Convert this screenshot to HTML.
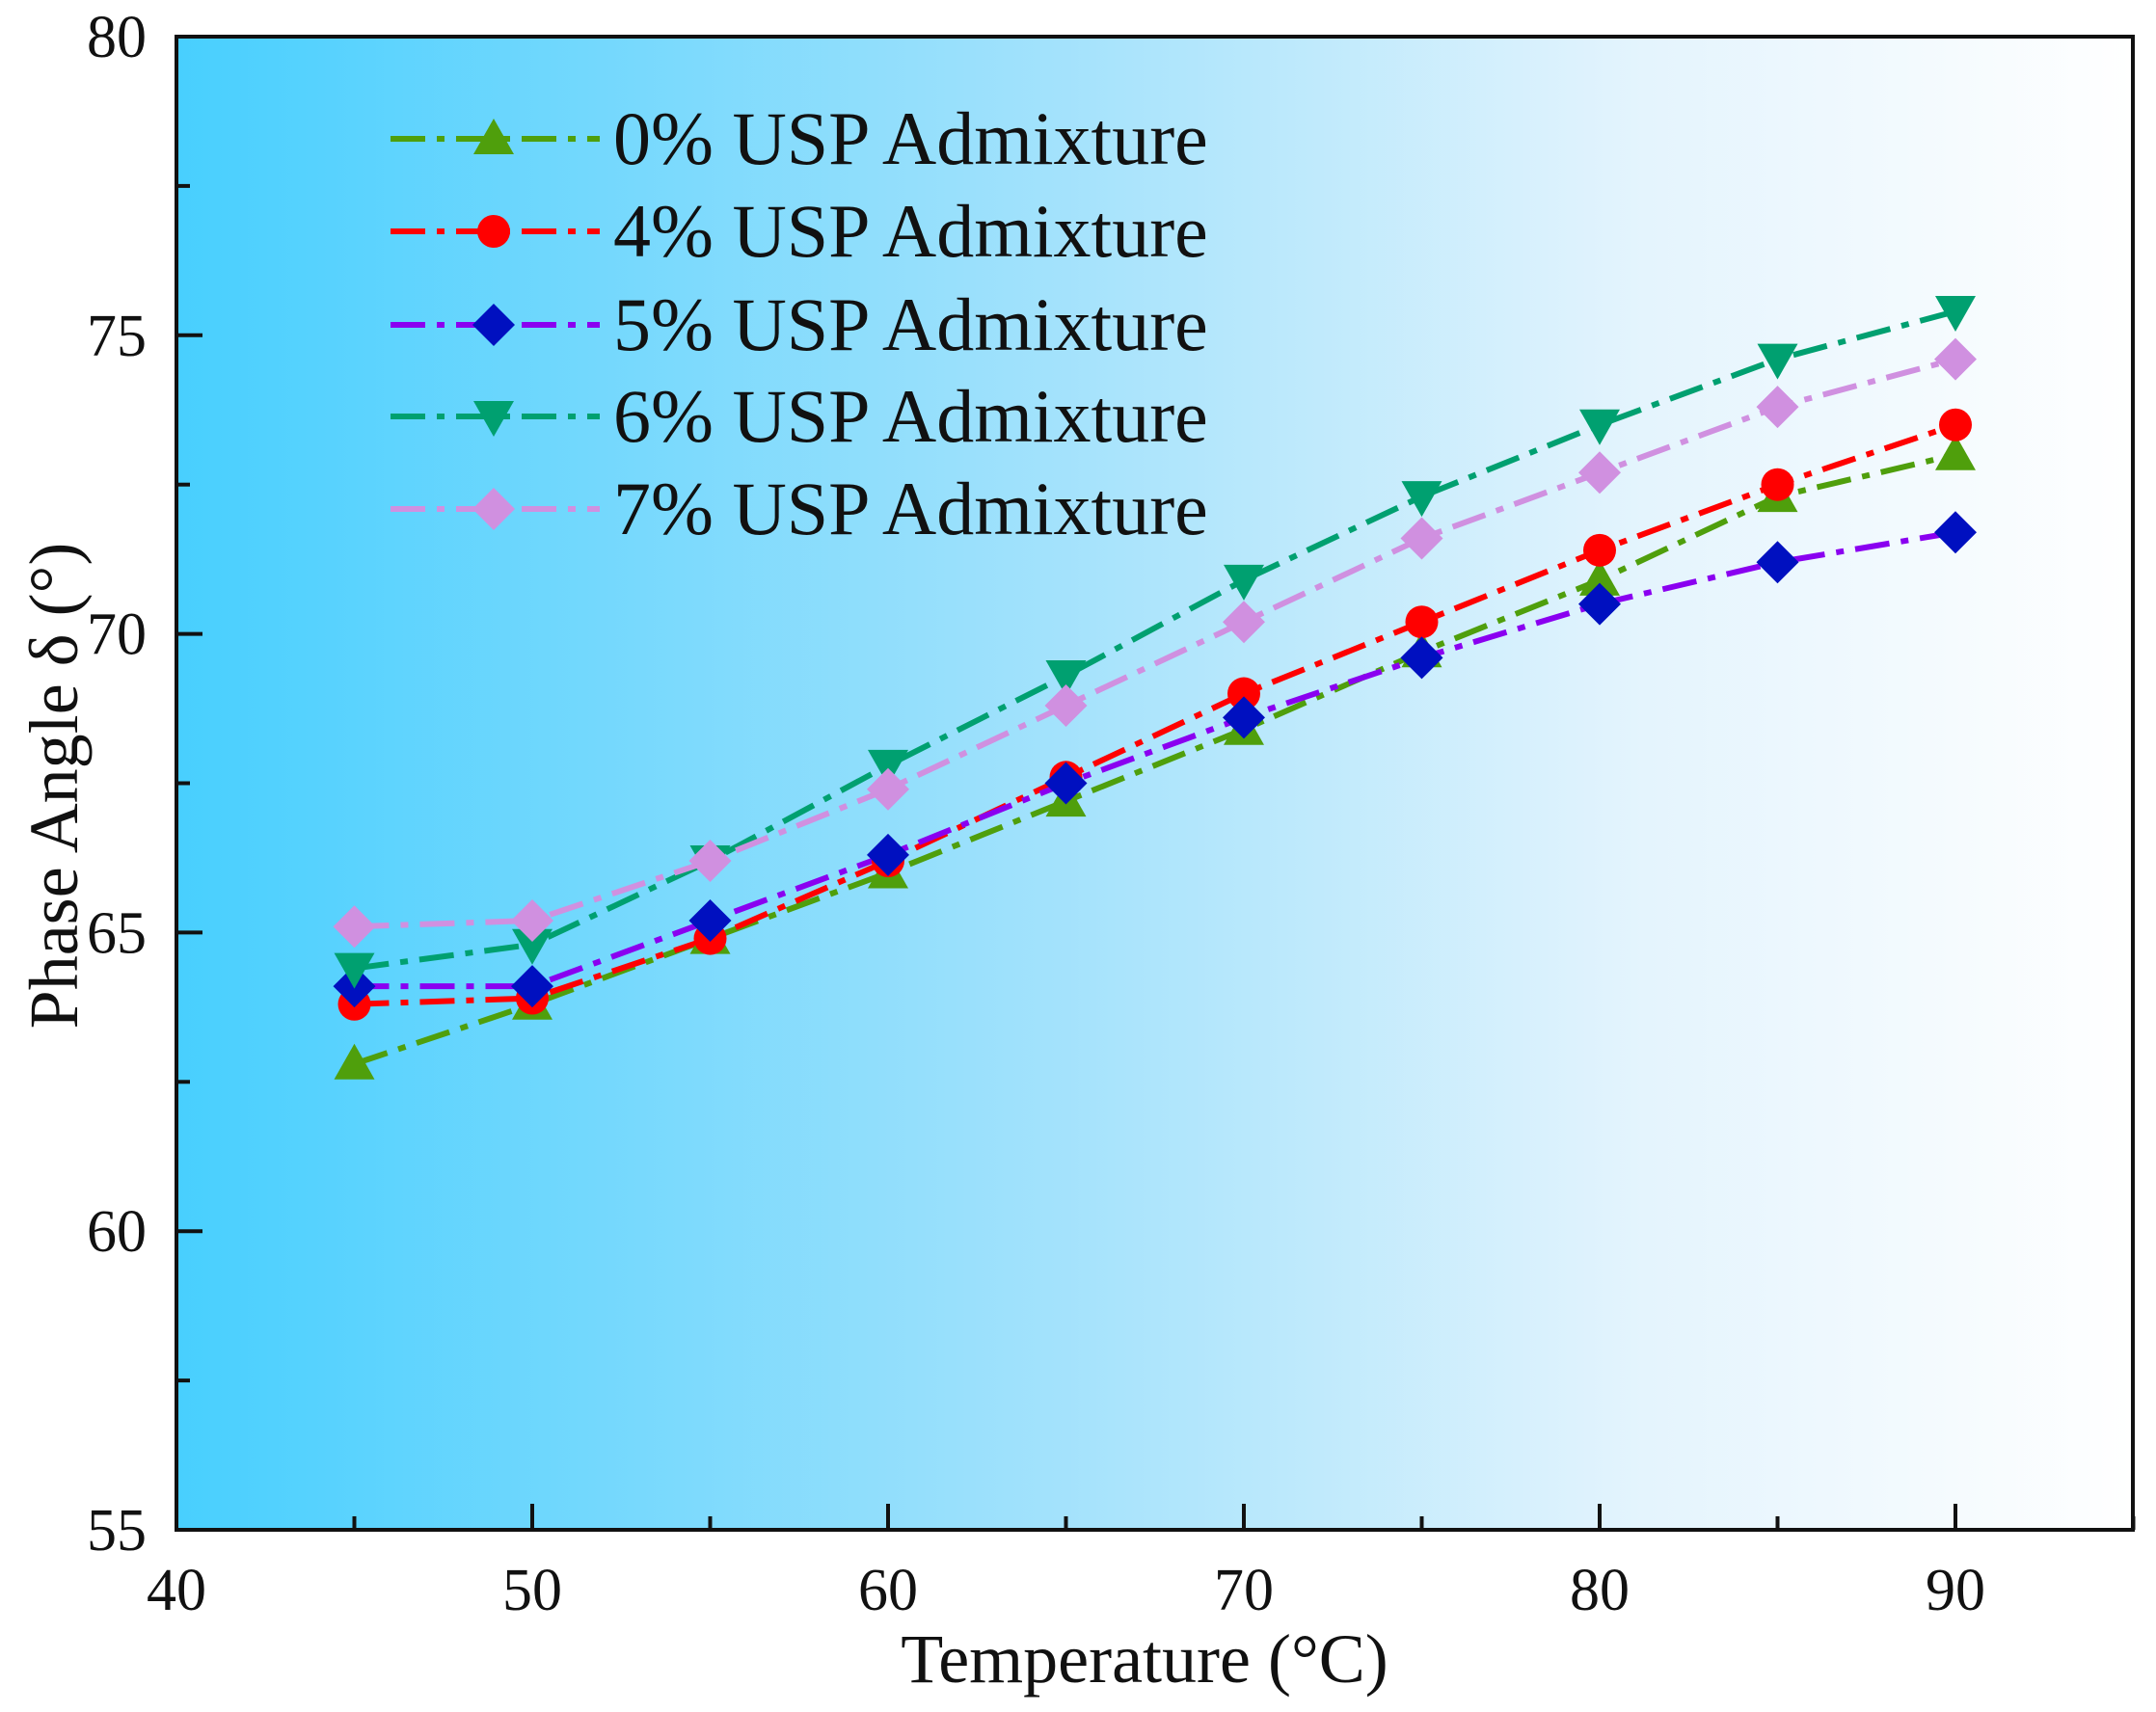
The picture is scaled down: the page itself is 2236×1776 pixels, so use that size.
<!DOCTYPE html>
<html><head><meta charset="utf-8"><style>
html,body{margin:0;padding:0;background:#fff;}
svg text{font-family:"Liberation Serif",serif;fill:#111;}
</style></head><body>
<svg id="s" width="2236" height="1771" viewBox="0 0 2236 1771" xmlns="http://www.w3.org/2000/svg">
<defs>
<linearGradient id="g" x1="0" x2="1" y1="0" y2="0">
<stop offset="0" stop-color="#48cffe"/>
<stop offset="0.45" stop-color="#a3e2fc"/>
<stop offset="0.75" stop-color="#e4f4fd"/>
<stop offset="1" stop-color="#ffffff"/>
</linearGradient>
</defs>
<rect x="183" y="38" width="2029" height="1549" fill="url(#g)"/>
<g id="plot"></g>
<rect x="183" y="38" width="2029" height="1549" fill="none" stroke="#111" stroke-width="4"/>
<g id="ax"></g>
<text x="1187" y="1745" font-size="72" text-anchor="middle">Temperature (°C)</text>
<text transform="translate(80,815) rotate(-90)" font-size="72" text-anchor="middle">Phase Angle δ (°)</text>
</svg>
<script>
const X=v=>183+(v-40)*36.9, Y=v=>1587-(v-55)*61.96;
const NS="http://www.w3.org/2000/svg";
function el(p,t,a,txt){const e=document.createElementNS(NS,t);for(const k in a)e.setAttribute(k,a[k]);if(txt!=null)e.textContent=txt;p.appendChild(e);return e;}
const ax=document.getElementById('ax'),pl=document.getElementById('plot');
for(let v=40;v<=95;v+=5){const x=X(v);el(ax,'line',{x1:x,x2:x,y1:1587,y2:v%10==0?1560:1573,stroke:'#111','stroke-width':4});
 if(v%10==0&&v<95)el(ax,'text',{x:x,y:1670,'font-size':62,'text-anchor':'middle'},v);}
for(let v=55;v<=80;v+=2.5){const y=Y(v);el(ax,'line',{x1:183,x2:v%5==0?210:197,y1:y,y2:y,stroke:'#111','stroke-width':4});
 if(v%5==0)el(ax,'text',{x:152,y:y+21,'font-size':62,'text-anchor':'end'},v);}
const xs=[45,50,55,60,65,70,75,80,85,90];
const S=[
 {n:'0%',lc:'#4f9f0c',mc:'#4f9f0c',m:'tu',d:[62.8,63.8,64.9,66.0,67.2,68.4,69.7,70.9,72.3,73.0]},
 {n:'4%',lc:'#ff0000',mc:'#ff0000',m:'c',d:[63.8,63.9,64.9,66.2,67.6,69.0,70.2,71.4,72.5,73.5]},
 {n:'5%',lc:'#8a00f0',mc:'#0010c0',m:'d',d:[64.1,64.1,65.2,66.3,67.5,68.6,69.6,70.5,71.2,71.7]},
 {n:'6%',lc:'#00a070',mc:'#00a070',m:'td',d:[64.4,64.8,66.2,67.8,69.3,70.9,72.3,73.5,74.6,75.4]},
 {n:'7%',lc:'#d090e0',mc:'#d090e0',m:'d',d:[65.1,65.2,66.2,67.4,68.8,70.2,71.6,72.7,73.8,74.6]}];
function mk(p,t,x,y,c){
 if(t=='c')el(p,'circle',{cx:x,cy:y,r:17,fill:c});
 else if(t=='d')el(p,'polygon',{points:`${x},${y-22} ${x+22},${y} ${x},${y+22} ${x-22},${y}`,fill:c});
 else if(t=='tu')el(p,'polygon',{points:`${x},${y-21} ${x+21},${y+16} ${x-21},${y+16}`,fill:c});
 else el(p,'polygon',{points:`${x},${y+21} ${x+21},${y-16} ${x-21},${y-16}`,fill:c});}
const da='36 12 8 12';
S.forEach(s=>{el(pl,'polyline',{points:s.d.map((v,i)=>X(xs[i])+','+Y(v)).join(' '),fill:'none',stroke:s.lc,'stroke-width':6,'stroke-dasharray':da});});
S.forEach(s=>{s.d.forEach((v,i)=>mk(pl,s.m,X(xs[i]),Y(v),s.mc));});
const ly=[144,240,337,432,528];
S.forEach((s,i)=>{const y=ly[i];el(pl,'line',{x1:405,x2:622,y1:y,y2:y,stroke:s.lc,'stroke-width':6,'stroke-dasharray':da});
 mk(pl,s.m,512,y,s.mc);el(pl,'text',{x:636,y:y+26,'font-size':78},s.n+' USP Admixture');});
</script>
</body></html>
